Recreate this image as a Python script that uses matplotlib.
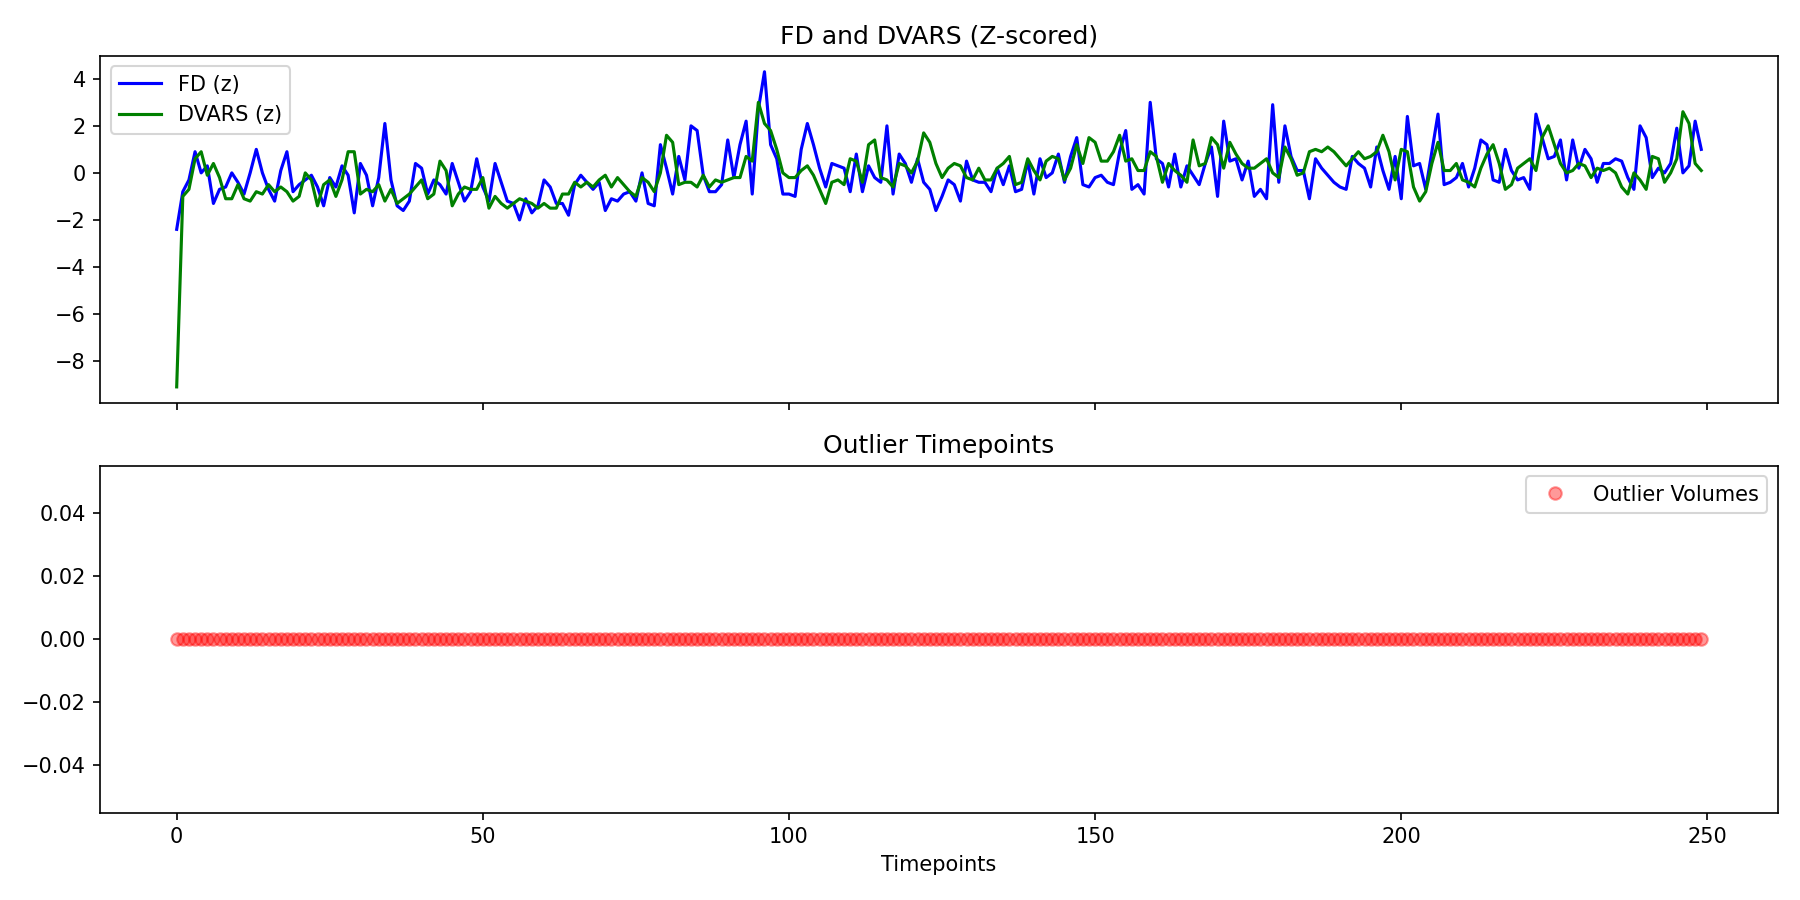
import numpy as np
import matplotlib.pyplot as plt

fd_z = [
    -2.4, -0.8, -0.3, 0.9, 0.0, 0.3, -1.3, -0.7, -0.6, 0.0,
    -0.4, -0.9, 0.0, 1.0, 0.0, -0.7, -1.2, 0.1, 0.9, -0.8,
    -0.5, -0.3, -0.1, -0.6, -1.4, -0.2, -0.6, 0.3, -0.1, -1.7,
    0.4, -0.1, -1.4, -0.2, 2.1, -0.3, -1.4, -1.6, -1.2, 0.4,
    0.2, -0.9, -0.3, -0.5, -0.9, 0.4, -0.4, -1.2, -0.8, 0.6,
    -0.6, -1.2, 0.4, -0.4, -1.2, -1.3, -2.0, -1.1, -1.7, -1.4,
    -0.3, -0.6, -1.3, -1.3, -1.8, -0.5, -0.1, -0.4, -0.7, -0.4,
    -1.6, -1.1, -1.2, -0.9, -0.8, -1.2, 0.0, -1.3, -1.4, 1.2,
    0.2, -0.9, 0.7, -0.3, 2.0, 1.8, -0.1, -0.8, -0.8, -0.5,
    1.4, -0.2, 1.2, 2.2, -0.9, 2.7, 4.3, 1.2, 0.6, -0.9,
    -0.9, -1.0, 1.0, 2.1, 1.2, 0.2, -0.6, 0.4, 0.3, 0.2,
    -0.8, 0.8, -0.8, 0.3, -0.2, -0.4, 2.0, -0.9, 0.8, 0.4,
    -0.4, 0.6, -0.4, -0.7, -1.6, -1.0, -0.3, -0.5, -1.2, 0.5,
    -0.3, -0.4, -0.4, -0.8, 0.2, -0.5, 0.3, -0.8, -0.7, 0.5,
    -0.9, 0.6, -0.2, 0.0, 0.8, -0.4, 0.7, 1.5, -0.5, -0.6,
    -0.2, -0.1, -0.4, -0.5, 0.9, 1.8, -0.7, -0.5, -0.9, 3.0,
    0.6, 0.4, -0.6, 0.8, -0.6, 0.3, -0.1, -0.5, 0.4, 1.1,
    -1.0, 2.2, 0.5, 0.6, -0.3, 0.5, -1.0, -0.7, -1.1, 2.9,
    -0.4, 2.0, 0.7, 0.1, 0.1, -1.1, 0.6, 0.2, -0.1, -0.4,
    -0.6, -0.7, 0.7, 0.4, 0.2, -0.6, 1.1, 0.1, -0.7, 0.7,
    -1.1, 2.4, 0.3, 0.4, -0.7, 0.9, 2.5, -0.5, -0.4, -0.2,
    0.4, -0.6, 0.2, 1.4, 1.2, -0.3, -0.4, 1.0, 0.1, -0.3,
    -0.2, -0.7, 2.5, 1.5, 0.6, 0.7, 1.4, -0.3, 1.4, 0.2,
    1.0, 0.6, -0.4, 0.4, 0.4, 0.6, 0.5, -0.2, -0.7, 2.0,
    1.5, -0.2, 0.2, 0.0, 0.4, 1.9, 0.0, 0.3, 2.2, 1.0,
]

dvars_z = [
    -9.1, -1.0, -0.7, 0.6, 0.9, -0.1, 0.4, -0.2, -1.1, -1.1,
    -0.5, -1.1, -1.2, -0.8, -0.9, -0.5, -0.8, -0.6, -0.8, -1.2,
    -1.0, 0.0, -0.3, -1.4, -0.5, -0.3, -1.0, -0.3, 0.9, 0.9,
    -0.9, -0.7, -0.8, -0.5, -1.2, -0.7, -1.3, -1.1, -0.9, -0.6,
    -0.3, -1.1, -0.9, 0.5, 0.1, -1.4, -0.9, -0.6, -0.7, -0.7,
    -0.2, -1.5, -1.0, -1.3, -1.5, -1.3, -1.1, -1.2, -1.3, -1.5,
    -1.3, -1.5, -1.5, -0.9, -0.9, -0.4, -0.6, -0.4, -0.6, -0.3,
    -0.1, -0.6, -0.2, -0.5, -0.8, -1.0, -0.2, -0.4, -0.8, 0.0,
    1.6, 1.3, -0.5, -0.4, -0.4, -0.6, -0.1, -0.6, -0.3, -0.4,
    -0.3, -0.2, -0.2, 0.7, 0.5, 3.0, 2.1, 1.8, 1.0, 0.0,
    -0.2, -0.2, 0.1, 0.3, -0.1, -0.7, -1.3, -0.4, -0.3, -0.5,
    0.6, 0.5, -0.4, 1.2, 1.4, -0.2, -0.3, -0.6, 0.4, 0.3,
    0.0, 0.5, 1.7, 1.3, 0.4, -0.2, 0.2, 0.4, 0.3, -0.2,
    -0.3, 0.2, -0.3, -0.3, 0.2, 0.4, 0.7, -0.5, -0.4, 0.6,
    0.1, -0.3, 0.5, 0.7, 0.6, -0.3, 0.2, 1.2, 0.4, 1.5,
    1.3, 0.5, 0.5, 0.9, 1.6, 0.5, 0.6, 0.1, 0.1, 0.9,
    0.7, -0.4, 0.4, 0.1, -0.1, -0.4, 1.4, 0.3, 0.4, 1.5,
    1.2, 0.2, 1.3, 0.8, 0.4, 0.2, 0.2, 0.4, 0.6, 0.0,
    -0.2, 1.1, 0.6, -0.1, 0.0, 0.9, 1.0, 0.9, 1.1, 0.9,
    0.6, 0.3, 0.6, 0.9, 0.6, 0.7, 0.9, 1.6, 0.9, -0.3,
    1.0, 0.9, -0.6, -1.2, -0.8, 0.4, 1.3, 0.1, 0.1, 0.4,
    -0.3, -0.4, -0.6, 0.2, 0.8, 1.2, 0.4, -0.7, -0.5, 0.2,
    0.4, 0.6, 0.1, 1.5, 2.0, 1.2, 0.4, 0.0, 0.1, 0.4,
    0.3, -0.2, 0.2, 0.1, 0.2, 0.0, -0.6, -0.9, 0.0, -0.3,
    -0.7, 0.7, 0.6, -0.4, 0.0, 0.6, 2.6, 2.1, 0.4, 0.1,
]

timepoints = np.arange(len(fd_z))
outliers = np.zeros(len(fd_z))

fig, (ax1, ax2) = plt.subplots(2, 1, figsize=(12, 6), sharex=True)

ax1.plot(timepoints, fd_z, color="blue", label="FD (z)")
ax1.plot(timepoints, dvars_z, color="green", label="DVARS (z)")
ax1.set_title("FD and DVARS (Z-scored)")
ax1.legend(loc="upper left")

ax2.plot(timepoints, outliers, "o", color="red", alpha=0.4, label="Outlier Volumes")
ax2.set_title("Outlier Timepoints")
ax2.set_xlabel("Timepoints")
ax2.legend(loc="upper right")

plt.tight_layout()
plt.savefig("out.png", dpi=150)
